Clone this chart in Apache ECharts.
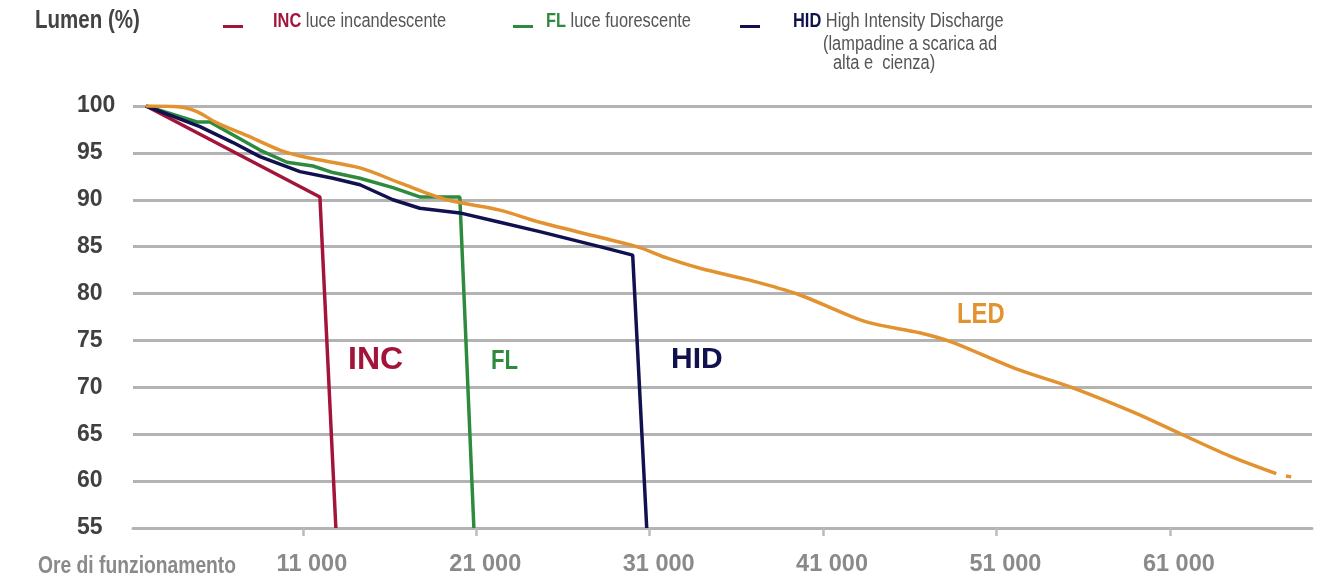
<!DOCTYPE html>
<html>
<head>
<meta charset="utf-8">
<script src="https://cdn.jsdelivr.net/npm/echarts@6/dist/echarts.min.js"></script>
<style>
html,body{margin:0;padding:0;background:#fff;}
#chart{width:1327px;height:579px;}
</style>
</head>
<body>
<div id="chart"></div>
<script>
// ---- data (hours of operation, lumen %) ----
const incData = [[1950,100],[11980,90.3],[12900,55]];
const flData = [[1950,100],[4890,98.3],[5640,98.3],[8520,95.3],[10080,94.0],[11580,93.6],[12730,92.9],[14290,92.3],[16190,91.3],[17740,90.3],[20050,90.3],[20860,55]];
const hidData = [[1950,100],[5060,97.8],[6970,96.1],[8520,94.6],[10830,93.0],[12730,92.3],[14290,91.6],[16190,90.0],[17740,89.1],[20050,88.6],[22360,87.6],[24660,86.6],[28120,85.0],[30020,84.1],[30830,55]];
const ledData = [[1950,100],[3910,99.9],[4890,99.4],[6040,98.2],[7950,96.7],[9670,95.3],[11230,94.5],[14290,93.4],[16590,91.8],[19300,90.0],[22360,88.9],[24660,87.6],[28120,86.0],[30430,84.9],[31980,83.8],[33900,82.7],[36820,81.4],[39590,79.9],[43450,77.0],[46620,75.8],[48470,74.8],[52100,72.0],[55330,70.0],[58960,67.3],[61670,65.0],[64430,62.7],[67140,60.8]];
const ledTail = [[67700,60.55],[68000,60.45]];
const xTickValues = [11000,21000,31000,41000,51000,61000];
const yTicks = [55,60,65,70,75,80,85,90,95,100];

const C_INC = '#A3143A', C_FL = '#2E8B3E', C_HID = '#11114F', C_LED = '#E2922F';
const FONT = "'Liberation Sans',Arial,sans-serif";
const NARROW_SCALE = 0.82;

function fmt(v){ return String(v).replace(/\B(?=(\d{3})+(?!\d))/g,' '); }

function narrowText(x, y, text, size, weight, fill, rich){
  const style = {text:text, fontFamily:FONT, fontSize:size, fontWeight:weight, fill:fill, verticalAlign:'middle'};
  if (rich) style.rich = rich;
  return {type:'text', x:x, y:y, scaleX:NARROW_SCALE, style:style};
}

const chart = echarts.init(document.getElementById('chart'));
const option = {
  animation:false,
  backgroundColor:'#fff',
  grid:{left:133,right:15,top:106,bottom:51,containLabel:false},
  xAxis:{
    type:'value', min:1200, max:69200,
    splitLine:{show:false},
    axisLine:{show:true,lineStyle:{color:'#b3b3b3',width:3}},
    axisTick:{show:true,customValues:xTickValues,length:8,lineStyle:{color:'#bcbcbc',width:2.5}},
    axisLabel:{customValues:xTickValues,formatter:v=>fmt(v),margin:25,padding:[0,0,0,18],
      fontFamily:FONT,fontSize:23.5,fontWeight:'bold',color:'#8a8a8a'}
  },
  yAxis:{
    type:'value', min:yTicks[0], max:yTicks[yTicks.length-1], interval:5,
    axisLine:{show:false}, axisTick:{show:false},
    splitLine:{show:true,lineStyle:{color:'#b3b3b3',width:3}},
    axisLabel:{align:'left',margin:56,fontFamily:FONT,fontSize:23,fontWeight:'bold',color:'#404040'}
  },
  series:[
    {name:'INC',type:'line',data:incData,showSymbol:false,lineStyle:{color:C_INC,width:3.5},z:2},
    {name:'FL',type:'line',data:flData,showSymbol:false,lineStyle:{color:C_FL,width:3.5},z:3},
    {name:'HID',type:'line',data:hidData,showSymbol:false,lineStyle:{color:C_HID,width:3.5},z:4},
    {name:'LED',type:'line',data:ledData,showSymbol:false,smooth:0.3,lineStyle:{color:C_LED,width:3.5},z:5},
    {name:'LED tail',type:'line',data:ledTail,showSymbol:false,lineStyle:{color:C_LED,width:3.5},z:5}
  ],
  graphic:[
    narrowText(35,21,'Lumen (%)',25,'bold','#444'),
    {type:'rect',shape:{x:223,y:25,width:20,height:3},style:{fill:C_INC}},
    narrowText(273,21,'{b|INC} luce incandescente',20,'normal','#555',{b:{fontFamily:FONT,fontSize:20,fontWeight:'bold',fill:C_INC}}),
    {type:'rect',shape:{x:513,y:25,width:20,height:3},style:{fill:C_FL}},
    narrowText(546,21,'{b|FL} luce fuorescente',20,'normal','#555',{b:{fontFamily:FONT,fontSize:20,fontWeight:'bold',fill:C_FL}}),
    {type:'rect',shape:{x:740,y:25,width:20,height:3},style:{fill:C_HID}},
    narrowText(793,21,'{b|HID} High Intensity Discharge',20,'normal','#555',{b:{fontFamily:FONT,fontSize:20,fontWeight:'bold',fill:C_HID}}),
    narrowText(823,44,'(lampadine a scarica ad',20,'normal','#555'),
    narrowText(833,63,'alta e  cienza)',20,'normal','#555'),
    narrowText(38,567,'Ore di funzionamento',23.5,'bold','#8a8a8a'),
    {type:'text',x:348,y:360,style:{text:'INC',fontFamily:FONT,fontSize:32,fontWeight:'bold',fill:C_INC,verticalAlign:'middle'}},
    narrowText(491,362,'FL',27,'bold',C_FL),
    {type:'text',x:671,y:360,style:{text:'HID',fontFamily:FONT,fontSize:30,fontWeight:'bold',fill:C_HID,verticalAlign:'middle'}},
    narrowText(957,315,'LED',29,'bold',C_LED)
  ]
};
chart.setOption(option);
</script>
</body>
</html>
